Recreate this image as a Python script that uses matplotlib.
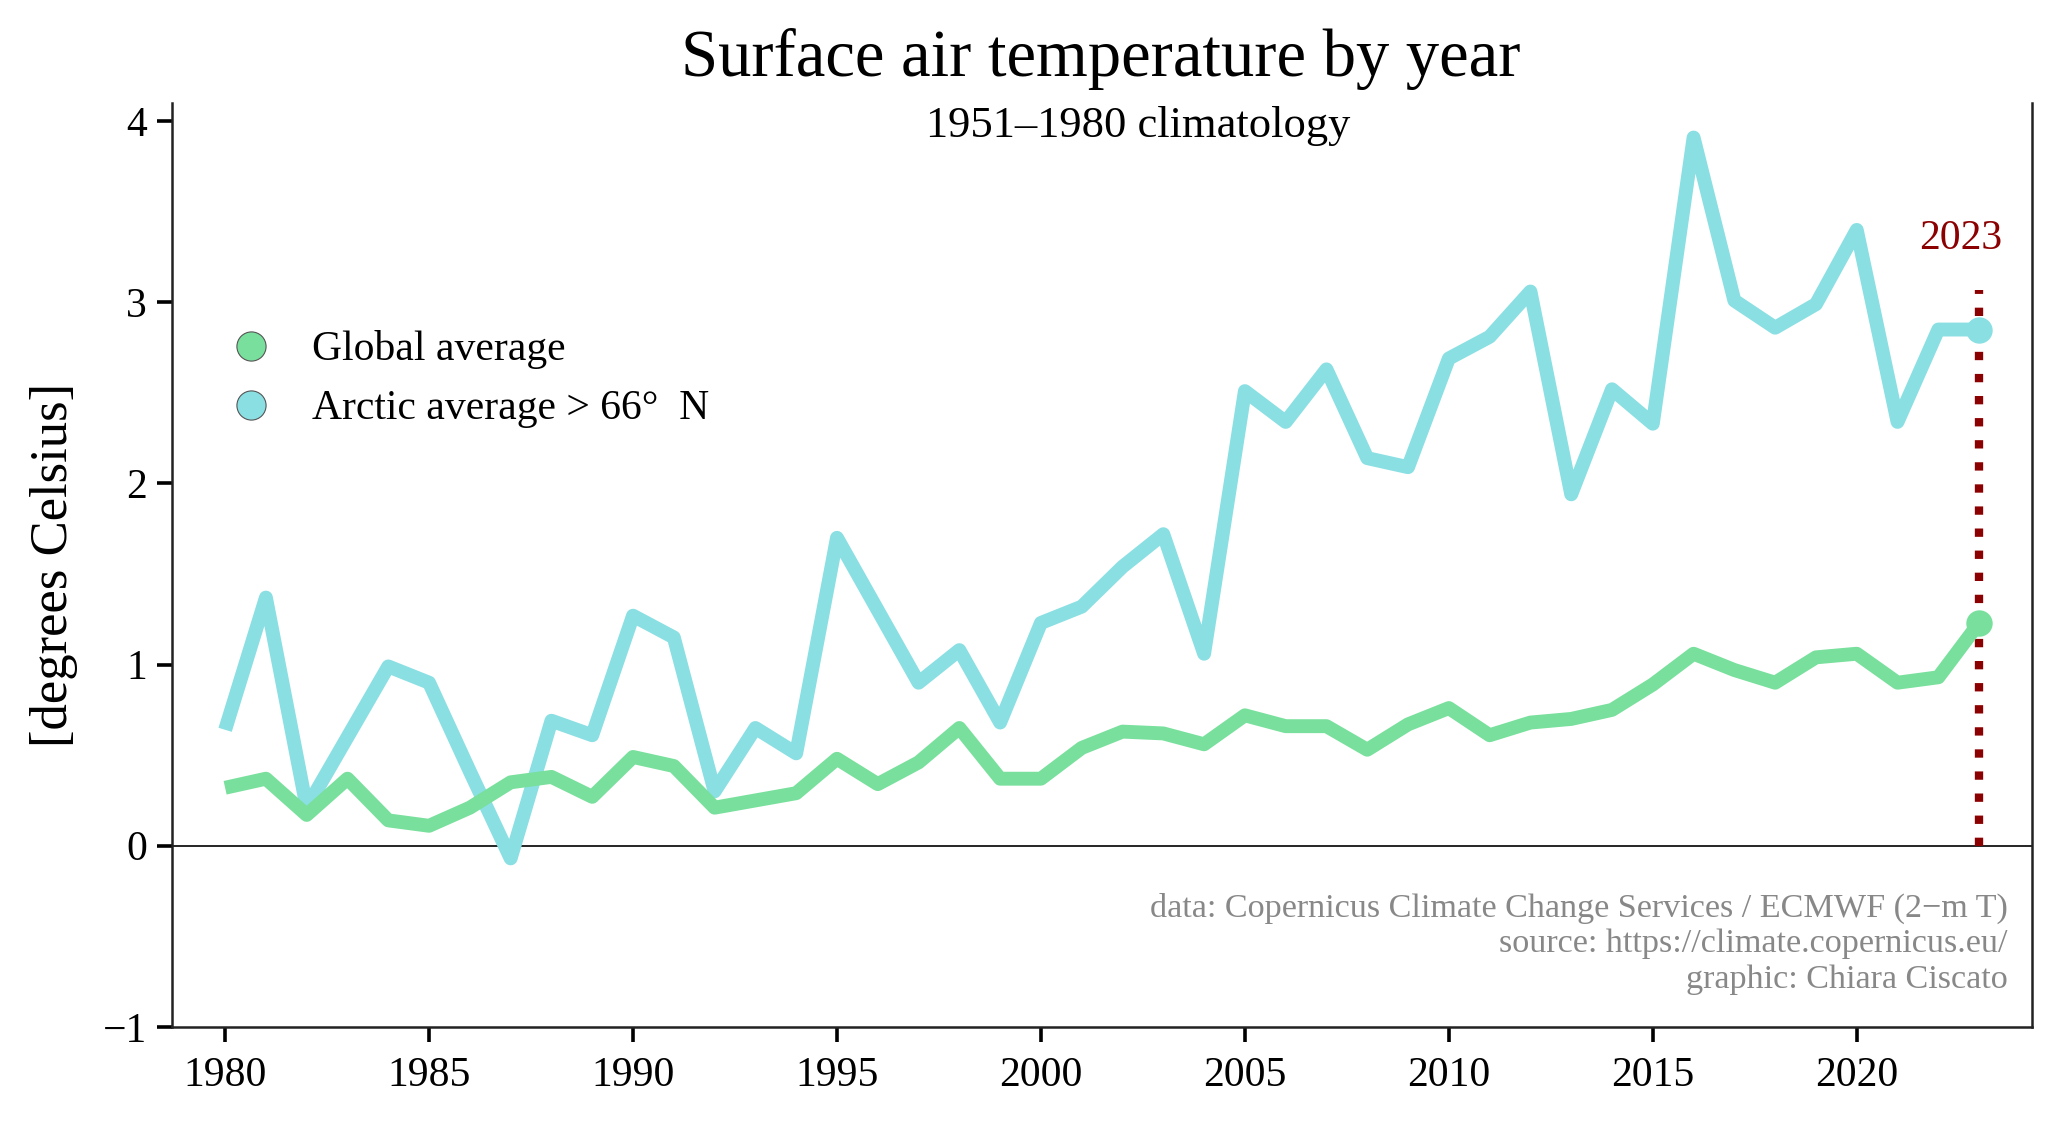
import numpy as np
import matplotlib.pyplot as plt
from matplotlib.lines import Line2D

plt.rcParams['font.family'] = ['Liberation Serif', 'DejaVu Serif']

years = np.arange(1980, 2024)

global_avg = [0.32, 0.37, 0.17, 0.37, 0.14, 0.11, 0.21, 0.35, 0.38, 0.27,
              0.49, 0.44, 0.21, 0.25, 0.29, 0.48, 0.34, 0.46, 0.65, 0.37,
              0.37, 0.54, 0.63, 0.62, 0.56, 0.72, 0.66, 0.66, 0.53, 0.67,
              0.76, 0.61, 0.68, 0.70, 0.75, 0.89, 1.06, 0.97, 0.90, 1.04,
              1.06, 0.90, 0.93, 1.23]

arctic_avg = [0.64, 1.37, 0.21, 0.60, 0.99, 0.90, 0.41, -0.07, 0.69, 0.61,
              1.27, 1.15, 0.30, 0.65, 0.51, 1.70, 1.30, 0.90, 1.08, 0.68,
              1.23, 1.32, 1.54, 1.72, 1.06, 2.51, 2.34, 2.63, 2.14, 2.09,
              2.69, 2.81, 3.06, 1.94, 2.52, 2.33, 3.91, 3.01, 2.86, 2.99,
              3.40, 2.34, 2.85, 2.85]

green = '#78E09C'
cyan = '#8ADFE3'
red = '#8B0000'

fig = plt.figure(figsize=(10.305, 5.605), dpi=200)
ax = fig.add_axes([0.0835, 0.084, 0.9025, 0.824])

ax.axhline(0, color='black', lw=0.6, zorder=1)
ax.plot(years, arctic_avg, color=cyan, lw=5, solid_capstyle='butt', zorder=3)
ax.plot(years, global_avg, color=green, lw=5, solid_capstyle='butt', zorder=3)
ax.plot(years[-1], arctic_avg[-1], 'o', color=cyan, ms=8.5, zorder=4)
ax.plot(years[-1], global_avg[-1], 'o', color=green, ms=8.5, zorder=4)

ax.vlines(2023, 0, 3.07, color=red, linestyles=':', lw=3, zorder=2)
ax.text(2022.55, 3.35, '2023', color=red, fontsize=15, ha='center', va='center')

ax.set_xlim(1978.7, 2024.3)
ax.set_ylim(-1, 4.1)
ax.set_xticks(np.arange(1980, 2021, 5))
ax.set_yticks(np.arange(-1, 5, 1))
ax.tick_params(labelsize=15, length=5.5, width=1.3, direction='out')
ax.tick_params(axis='x', pad=5)
ax.spines['top'].set_visible(False)
for s in ['left', 'bottom', 'right']:
    ax.spines[s].set_color('#222222')
    ax.spines[s].set_linewidth(0.9)

handles = [Line2D([], [], marker='o', ls='none', color=green, markersize=10.5,
                  markeredgecolor='#555555', markeredgewidth=0.4),
           Line2D([], [], marker='o', ls='none', color=cyan, markersize=10.5,
                  markeredgecolor='#555555', markeredgewidth=0.4)]
ax.legend(handles, ['Global average', 'Arctic average > 66°  N'],
          loc='center left', bbox_to_anchor=(0.0, 0.701), frameon=False,
          fontsize=15, handletextpad=0.45, labelspacing=0.5)

ax.text(0.987, 0.09,
        'data: Copernicus Climate Change Services / ECMWF (2\u2212m T)\n'
        'source: https://climate.copernicus.eu/\n'
        'graphic: Chiara Ciscato',
        transform=ax.transAxes, ha='right', va='center', color='#888888',
        fontsize=12.3, linespacing=1.22)

fig.text(0.534, 0.947, 'Surface air temperature by year', ha='center',
         va='center', fontsize=24)
fig.text(0.552, 0.888, '1951\u20131980 climatology', ha='center',
         va='center', fontsize=16)
fig.text(0.026, 0.496, '[degrees Celsius]', rotation=90, ha='center',
         va='center', fontsize=19)

fig.savefig('out.png', dpi=200)
